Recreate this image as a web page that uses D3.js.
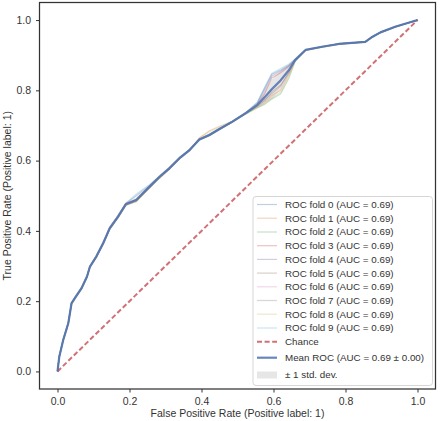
<!DOCTYPE html>
<html><head><meta charset="utf-8">
<script src="https://cdn.jsdelivr.net/npm/d3@7"></script>
<style>body{margin:0;background:#fff}svg{display:block;font-family:"Liberation Sans",Arial,sans-serif}</style>
</head><body><svg id="c" width="440" height="421"></svg>
<script>
const fpr = [0,0.005,0.016,0.03,0.039,0.051,0.067,0.082,0.09,0.108,0.127,0.145,0.168,0.19,0.219,0.256,0.284,0.311,0.339,0.367,0.394,0.422,0.45,0.486,0.523,0.555,0.575,0.595,0.62,0.643,0.66,0.689,0.735,0.781,0.818,0.855,0.874,0.897,0.938,1.0];
const meanTpr = [0,0.042,0.09,0.137,0.194,0.213,0.237,0.27,0.298,0.327,0.365,0.407,0.44,0.476,0.488,0.526,0.554,0.578,0.607,0.63,0.66,0.673,0.69,0.711,0.735,0.758,0.78,0.803,0.829,0.858,0.886,0.915,0.924,0.932,0.935,0.938,0.952,0.965,0.981,1.0];
const fold0 = [0,0.045,0.092,0.14,0.196,0.215,0.238,0.272,0.3,0.33,0.368,0.41,0.443,0.478,0.5,0.53,0.556,0.58,0.609,0.632,0.662,0.675,0.692,0.713,0.737,0.765,0.805,0.845,0.858,0.872,0.888,0.915,0.924,0.932,0.935,0.938,0.952,0.965,0.981,1];
const fold1 = [0,0.04,0.088,0.135,0.19,0.21,0.235,0.268,0.295,0.325,0.362,0.404,0.437,0.472,0.485,0.522,0.55,0.575,0.605,0.628,0.665,0.685,0.698,0.712,0.733,0.752,0.765,0.785,0.8,0.845,0.884,0.913,0.923,0.931,0.934,0.937,0.951,0.964,0.98,1];
const fold2 = [0,0.043,0.09,0.138,0.193,0.212,0.236,0.269,0.297,0.326,0.364,0.405,0.439,0.474,0.484,0.523,0.552,0.577,0.606,0.629,0.658,0.671,0.688,0.709,0.733,0.75,0.76,0.775,0.79,0.835,0.882,0.914,0.923,0.931,0.934,0.937,0.951,0.964,0.98,1];
const fold3 = [0,0.041,0.089,0.136,0.195,0.214,0.24,0.272,0.3,0.329,0.367,0.41,0.444,0.479,0.49,0.528,0.557,0.581,0.608,0.631,0.66,0.672,0.689,0.71,0.736,0.76,0.79,0.835,0.85,0.868,0.886,0.915,0.924,0.932,0.935,0.938,0.952,0.965,0.981,1];
const fold4 = [0,0.042,0.091,0.137,0.194,0.213,0.237,0.27,0.298,0.327,0.365,0.406,0.441,0.476,0.489,0.527,0.555,0.579,0.608,0.632,0.661,0.674,0.69,0.712,0.736,0.762,0.8,0.84,0.855,0.87,0.887,0.916,0.925,0.933,0.936,0.939,0.953,0.966,0.982,1];
const fold5 = [0,0.043,0.09,0.138,0.192,0.211,0.236,0.268,0.296,0.326,0.364,0.406,0.438,0.475,0.486,0.524,0.553,0.577,0.606,0.629,0.659,0.672,0.69,0.71,0.734,0.755,0.77,0.795,0.815,0.85,0.885,0.915,0.924,0.932,0.935,0.938,0.952,0.965,0.981,1];
const fold6 = [0,0.044,0.091,0.139,0.195,0.214,0.239,0.271,0.299,0.329,0.367,0.409,0.442,0.477,0.489,0.527,0.555,0.579,0.608,0.631,0.66,0.673,0.69,0.711,0.735,0.758,0.775,0.8,0.825,0.858,0.886,0.915,0.924,0.932,0.935,0.938,0.952,0.965,0.981,1];
const fold7 = [0,0.042,0.09,0.137,0.194,0.213,0.237,0.27,0.298,0.327,0.365,0.407,0.44,0.476,0.487,0.525,0.554,0.578,0.607,0.63,0.66,0.673,0.69,0.711,0.735,0.757,0.772,0.79,0.812,0.852,0.886,0.915,0.924,0.932,0.935,0.938,0.952,0.965,0.981,1];
const fold8 = [0,0.04,0.089,0.136,0.193,0.212,0.236,0.269,0.297,0.326,0.363,0.405,0.438,0.474,0.484,0.523,0.552,0.576,0.606,0.629,0.663,0.682,0.695,0.711,0.734,0.752,0.762,0.778,0.795,0.84,0.883,0.914,0.923,0.931,0.934,0.937,0.951,0.964,0.98,1];
const fold9 = [0,0.045,0.092,0.14,0.197,0.216,0.239,0.272,0.3,0.33,0.368,0.41,0.442,0.479,0.505,0.532,0.557,0.581,0.609,0.632,0.66,0.673,0.69,0.711,0.736,0.766,0.808,0.848,0.862,0.875,0.889,0.915,0.924,0.932,0.935,0.938,0.952,0.965,0.981,1];
const folds = [fold0,fold1,fold2,fold3,fold4,fold5,fold6,fold7,fold8,fold9];
const foldAuc = [0.69,0.69,0.69,0.69,0.69,0.69,0.69,0.69,0.69,0.69];
const meanAuc = 0.69, stdAuc = 0.00;
const foldColors = ["#4C72B0","#DD8452","#55A868","#C44E52","#8172B3","#937860","#DA8BC3","#8C8C8C","#CCB974","#64B5CD"];
const xTicks = [0,0.2,0.4,0.6,0.8,1.0];
const yTicks = [0,0.2,0.4,0.6,0.8,1.0];

const svg = d3.select("#c");
const L=39.5, R=435.5, T=2.5, B=389;
const x = d3.scaleLinear().domain([-0.05,1.05]).range([L,R]);
const y = d3.scaleLinear().domain([-0.05,1.05]).range([B,T]);
const tc = "#333333";

// std band
const std = fpr.map((_,i)=>{const v=folds.map(f=>f[i]);const m=d3.mean(v);return Math.sqrt(d3.mean(v,a=>(a-m)*(a-m)));});
const band = fpr.map((f,i)=>({f, lo:Math.max(meanTpr[i]-std[i],0), hi:Math.min(meanTpr[i]+std[i],1)}));
svg.append("path").datum(band).attr("fill","grey").attr("fill-opacity",0.2)
  .attr("d",d3.area().x(d=>x(d.f)).y0(d=>y(d.lo)).y1(d=>y(d.hi)));

const line = d3.line().x((d,i)=>x(fpr[i])).y(d=>y(d));
folds.forEach((f,k)=>{
  svg.append("path").datum(f).attr("fill","none").attr("stroke",foldColors[k]).attr("stroke-opacity",0.35).attr("stroke-width",1.2).attr("d",line);
});
// chance
svg.append("path").datum([0,1]).attr("fill","none").attr("stroke","#C44E52").attr("stroke-width",2).attr("stroke-opacity",0.8)
  .attr("stroke-dasharray","5,2.6").attr("d",d3.line().x(d=>x(d)).y(d=>y(d)));
// mean
svg.append("path").datum(meanTpr).attr("fill","none").attr("stroke","#4C72B0").attr("stroke-width",2.2).attr("stroke-opacity",0.85).attr("stroke-linejoin","round").attr("d",line);

// axes
const xa = svg.append("g").attr("transform",`translate(0,${B})`).call(d3.axisBottom(x).tickValues(xTicks).tickFormat(d3.format(".1f")).tickSizeOuter(0).tickSize(3.5).tickPadding(5));
const ya = svg.append("g").attr("transform",`translate(${L},0)`).call(d3.axisLeft(y).tickValues(yTicks).tickFormat(d3.format(".1f")).tickSizeOuter(0).tickSize(3.5).tickPadding(5));
[xa,ya].forEach(g=>{g.select(".domain").remove();g.selectAll("line").attr("stroke",tc).attr("stroke-width",1);g.selectAll("text").attr("fill",tc).attr("font-size",10.5).attr("font-family","Liberation Sans, Arial, sans-serif");});
svg.append("rect").attr("x",L).attr("y",T).attr("width",R-L).attr("height",B-T).attr("fill","none").attr("stroke",tc).attr("stroke-width",1.25);

svg.append("text").attr("x",(L+R)/2).attr("y",417).attr("text-anchor","middle").attr("font-size",10.5).attr("fill",tc).text("False Positive Rate (Positive label: 1)");
svg.append("text").attr("transform",`translate(11,${(T+B)/2}) rotate(-90)`).attr("text-anchor","middle").attr("font-size",10.5).attr("fill",tc).text("True Positive Rate (Positive label: 1)");

// legend
const lg = svg.append("g");
lg.append("rect").attr("x",253).attr("y",196.5).attr("width",179.5).attr("height",189).attr("rx",3).attr("fill","#fff").attr("fill-opacity",0.8).attr("stroke","#d6d6d6").attr("stroke-width",1);
const rows = foldAuc.map((a,k)=>({type:"fold",k,label:`ROC fold ${k} (AUC = ${a.toFixed(2)})`}));
rows.push({type:"chance",label:"Chance"});
rows.push({type:"mean",label:`Mean ROC (AUC = ${meanAuc.toFixed(2)} \u00b1 ${stdAuc.toFixed(2)})`});
rows.push({type:"std",label:"\u00b1 1 std. dev."});
const rowY = [204.5,218.2,232,245.7,259.4,273.1,286.8,300.5,314.2,328,341.7,357.7,375];
rows.forEach((r,i)=>{
  const yy=rowY[i];
  if(r.type==="fold") lg.append("line").attr("x1",257).attr("x2",277).attr("y1",yy).attr("y2",yy).attr("stroke",foldColors[r.k]).attr("stroke-opacity",0.35).attr("stroke-width",1.2);
  if(r.type==="chance") lg.append("line").attr("x1",257).attr("x2",277).attr("y1",yy).attr("y2",yy).attr("stroke","#C44E52").attr("stroke-opacity",0.8).attr("stroke-width",2).attr("stroke-dasharray","5,2.6");
  if(r.type==="mean") lg.append("line").attr("x1",257).attr("x2",277).attr("y1",yy).attr("y2",yy).attr("stroke","#4C72B0").attr("stroke-opacity",0.85).attr("stroke-width",2.2);
  if(r.type==="std") lg.append("rect").attr("x",257).attr("y",yy-3.5).attr("width",20).attr("height",7).attr("fill","grey").attr("fill-opacity",0.2);
  lg.append("text").attr("x",285).attr("y",yy).attr("dy","0.35em").attr("font-size",9.8).attr("fill",tc).text(r.label);
});
</script></body></html>
